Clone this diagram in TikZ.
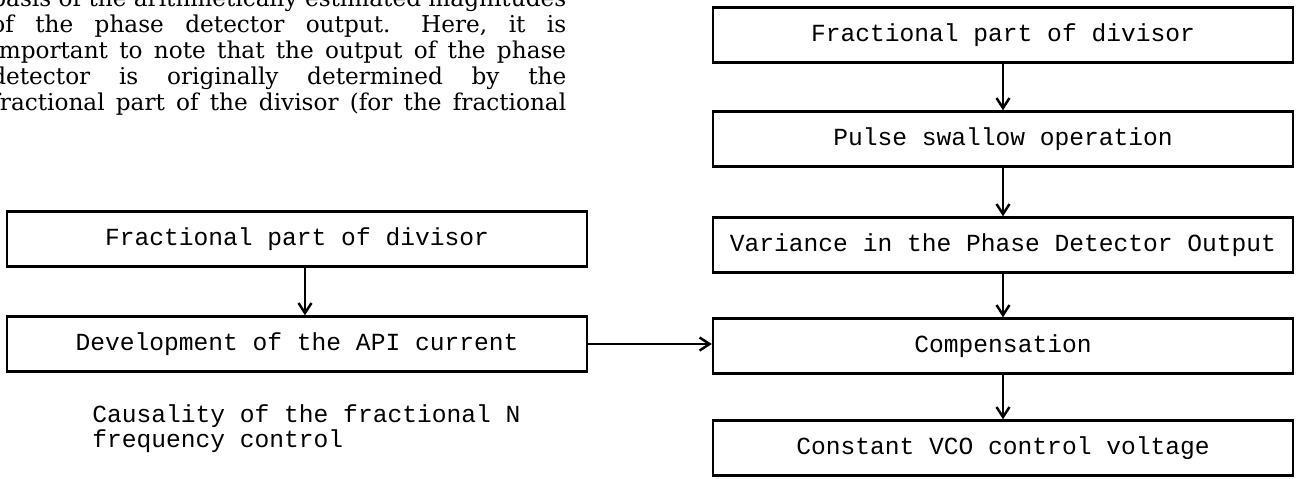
\documentclass[tikz,border=0pt]{standalone}
\usepackage{fontspec}
\setmainfont{DejaVu Serif}
\setmonofont{Liberation Mono}
\usetikzlibrary{arrows.meta, positioning}
\newcommand\pagefont{\fontsize{13.2}{15}\selectfont\frenchspacing
  \spaceskip 0.28em plus 1em minus 0.1em\relax}

\begin{document}
\begin{tikzpicture}[x=0.02cm, y=-0.02cm,
  box/.style={draw, line width=1.4pt, minimum width=11.6cm, minimum height=1.1cm,
    inner sep=2pt, font=\ttfamily\fontsize{14}{17}\selectfont},
  arr/.style={-{Straight Barb[length=2mm,width=2.6mm]}, line width=1.4pt},
  para/.style={anchor=base west, inner sep=0pt, font=\pagefont},
  capt/.style={anchor=base west, inner sep=0pt, font=\ttfamily\fontsize{14}{17}\selectfont},
]
\useasboundingbox (0,0) rectangle (1296,478);
\clip (0,0) rectangle (1296,478);

% text of the page, cut at the edges
\node[para] (p1) at (-9,6)   {\makebox[11.5cm][s]{basis of the arithmetically estimated magnitudes}};
\node[para] (p2) at (-9,32)  {\makebox[11.5cm][s]{of the phase detector output.\hspace{0.4em} Here, it is}};
\node[para] (p3) at (-9,58)  {\makebox[11.5cm][s]{important to note that the output of the phase}};
\node[para] (p4) at (-9,84)  {\makebox[11.5cm][s]{detector is originally determined by the}};
\node[para] (p5) at (-9,110) {\makebox[11.5cm][s]{fractional part of the divisor (for the fractional}};

% left chain
\node[box] (lfrac) at (297,239) {Fractional part of divisor};
\node[box] (ldev)  at (297,344) {Development of the API current};
\node[capt] (cap1) at (92,422) {Causality of the fractional N};
\node[capt] (cap2) at (92,447) {frequency control};

% right chain
\node[box] (rfrac) at (1003,35)  {Fractional part of divisor};
\node[box] (pulse) at (1003,139) {Pulse swallow operation};
\node[box] (var)   at (1003,245) {Variance in the Phase Detector Output};
\node[box] (comp)  at (1003,346) {Compensation};
\node[box] (vco)   at (1003,448) {Constant VCO control voltage};

\draw[arr] ([xshift=0.16cm]lfrac.south) -- ([xshift=0.16cm]ldev.north);
\draw[arr] (ldev.east) -- (ldev.east -| comp.west);
\draw[arr] (rfrac) -- (pulse);
\draw[arr] (pulse) -- (var);
\draw[arr] (var) -- (comp);
\draw[arr] (comp) -- (vco);
\end{tikzpicture}
\end{document}
